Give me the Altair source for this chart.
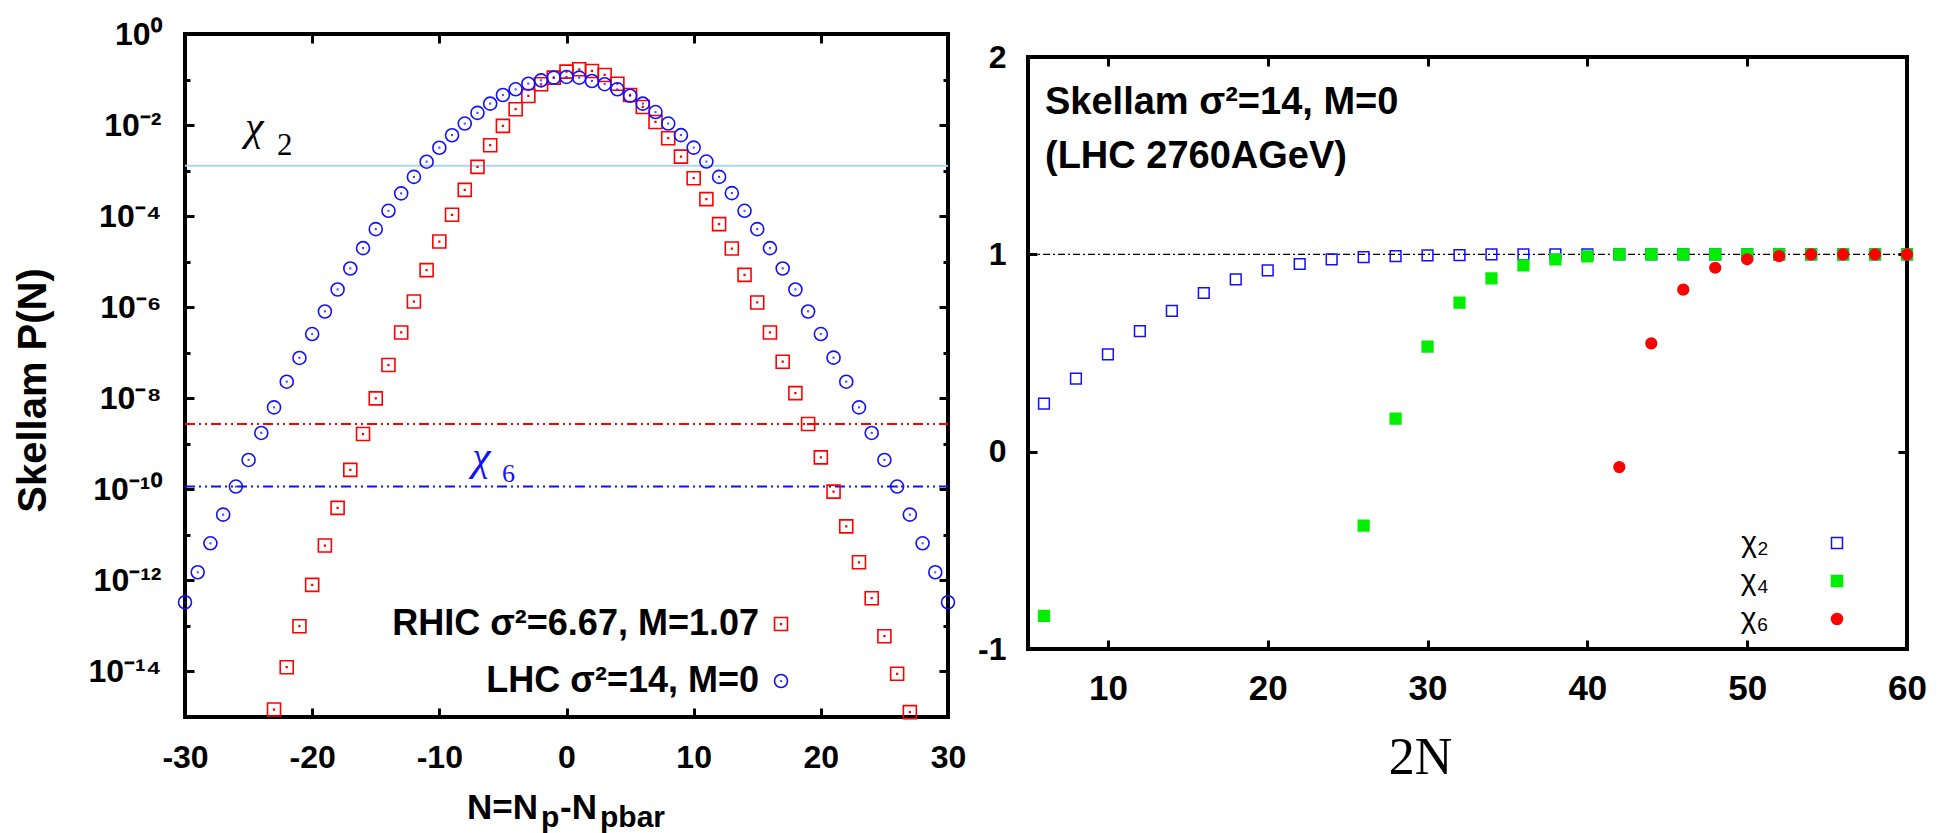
import altair as alt
import pandas as pd

SANS = "Liberation Sans"
SERIF = "Liberation Serif"

# ---------------- left panel data ----------------
rhic_label = "RHIC σ²=6.67, M=1.07"
lhc_label = "LHC σ²=14, M=0"

lhc_N = list(range(-30, 31))
lhc_P = [3.31e-13, 1.51e-12, 6.53e-12, 2.78e-11, 1.15e-10, 4.42e-10, 1.73e-9, 6.30e-9, 2.31e-8, 7.69e-8,
         2.57e-7, 8.05e-7, 2.45e-6, 7.08e-6, 1.98e-5, 5.18e-5, 1.31e-4, 3.16e-4, 7.28e-4, 1.57e-3,
         3.18e-3, 5.98e-3, 1.08e-2, 1.85e-2, 2.95e-2, 4.57e-2, 6.1e-2, 8.1e-2, 9.6e-2, 1.10e-1,
         1.14e-1,
         1.10e-1, 9.3e-2, 7.9e-2, 6.1e-2, 4.4e-2, 2.95e-2, 1.93e-2, 1.08e-2, 6.0e-3, 3.2e-3,
         1.58e-3, 7.28e-4, 3.2e-4, 1.31e-4, 5.18e-5, 1.98e-5, 7.08e-6, 2.45e-6, 8.05e-7, 2.57e-7,
         7.8e-8, 2.31e-8, 6.30e-9, 1.73e-9, 4.42e-10, 1.15e-10, 2.78e-11, 6.53e-12, 1.51e-12, 3.31e-13]

rhic_N = list(range(-23, 28))
rhic_P = [1.46e-15, 1.24e-14, 9.86e-14, 7.98e-13, 5.82e-12, 3.91e-11, 2.67e-10, 1.64e-9, 9.93e-9, 5.37e-8,
          2.79e-7, 1.33e-6, 6.53e-6, 2.77e-5, 1.07e-4, 3.77e-4, 1.21e-3, 3.61e-3, 9.58e-3, 2.23e-2,
          4.36e-2, 7.87e-2, 1.10e-1, 1.49e-1, 1.68e-1, 1.54e-1, 1.26e-1, 8.11e-2, 4.59e-2, 2.50e-2,
          1.17e-2, 5.14e-3, 2.03e-3, 6.81e-4, 2.36e-4, 6.67e-5, 1.94e-5, 5.14e-6, 1.27e-6, 2.79e-7,
          6.34e-8, 1.30e-8, 2.72e-9, 5.03e-10, 8.89e-11, 1.54e-11, 2.50e-12, 4.06e-13, 5.94e-14, 8.89e-15,
          1.28e-15]

# horizontal reference levels in the left panel
level_names = ["chi2", "chi6 RHIC", "chi6 LHC"]
level_values = [1.27e-3, 2.71e-9, 1.15e-10]

left_x_ticks = [-30, -20, -10, 0, 10, 20, 30]
left_y_major = [1, 1e-2, 1e-4, 1e-6, 1e-8, 1e-10, 1e-12, 1e-14]
left_y_minor = [1e-1, 1e-3, 1e-5, 1e-7, 1e-9, 1e-11, 1e-13]
left_y_exps = [0, -2, -4, -6, -8, -10, -12, -14]
left_y_labels = ["10⁰", "10⁻²", "10⁻⁴", "10⁻⁶", "10⁻⁸", "10⁻¹⁰", "10⁻¹²", "10⁻¹⁴"]

# ---------------- right panel data ----------------
chi_names = ["χ₂", "χ₄", "χ₆"]
chi2_x = [6, 8, 10, 12, 14, 16, 18, 20, 22, 24, 26, 28, 30, 32, 34, 36, 38, 40, 42, 44, 46, 48, 50, 52, 54, 56, 58, 60]
chi2_y = [0.243, 0.370, 0.493, 0.611, 0.714, 0.804, 0.873, 0.919, 0.951, 0.975, 0.986, 0.991, 0.995, 0.996,
          1.0, 1.0, 1.0, 1.0, 1.0, 1.0, 1.0, 1.0, 1.0, 1.0, 1.0, 1.0, 1.0, 1.0]
chi4_x = [6, 26, 28, 30, 32, 34, 36, 38, 40, 42, 44, 46, 48, 50, 52, 54, 56, 58, 60]
chi4_y = [-0.832, -0.375, 0.167, 0.532, 0.755, 0.878, 0.944, 0.975, 0.990,
          1.0, 1.0, 1.0, 1.0, 1.0, 1.0, 1.0, 1.0, 1.0, 1.0]
chi6_x = [42, 44, 46, 48, 50, 52, 54, 56, 58, 60]
chi6_y = [-0.078, 0.549, 0.821, 0.932, 0.975, 0.991, 1.0, 1.0, 1.0, 1.0]
unity_level = [1.0]

right_x_ticks = [10, 20, 30, 40, 50, 60]
right_y_ticks = [-1, 0, 1, 2]

# ---------------- styling ----------------
RED = "#ff0000"
BLUE = "#1010ff"
GREEN = "#00ee00"
SKY = "#a8d8f0"
SQ_DOT = "M-1,-1L1,-1L1,1L-1,1Z M-0.05,-0.05L0.05,-0.05L0.05,0.05L-0.05,0.05Z"
CIRC_DOT = ("M1,0A1,1,0,1,1,-1,0A1,1,0,1,1,1,0Z "
            "M0.05,0A0.05,0.05,0,1,1,-0.05,0A0.05,0.05,0,1,1,0.05,0Z")

MAJ = 9
MINR = 5
NBSP = "\u00a0"
ZWSP = "\u200b"  # keeps the trailing no-break spaces from being trimmed
minus_expr = "datum.value < 0 ? '-' + abs(datum.value) : '' + datum.value"
log_expr = " : ".join(
    f"round(log(datum.value)/LN10) == {e} ? '{lab}'" for e, lab in zip(left_y_exps, left_y_labels)
) + " : ''"


def tick_axis(orient, values, size, **kw):
    base = dict(orient=orient, values=values, domain=False, grid=False, ticks=True,
                tickSize=size, tickWidth=3, tickColor="black", offset=-size,
                labels=False, title=None)
    base.update(kw)
    return alt.Axis(**base)


def label_kw(size, pad, expr):
    return dict(labels=True, labelFont=SANS, labelFontSize=size, labelFontWeight="bold",
                labelColor="black", labelPadding=pad, labelOverlap=False, labelFlush=False,
                labelExpr=expr)


def make_txt(xs, ys, x0, y0):
    """Text anchored at the panel's top-left corner (x0, y0), shifted by pixel offsets."""
    def txt(text, px, py, size, color="black", font=SANS, weight="bold", style="normal"):
        return alt.Chart(pd.DataFrame({"t": [text]})).mark_text(
            align="left", baseline="alphabetic", fontSize=size, font=font,
            fontWeight=weight, fontStyle=style, color=color, dx=px, dy=py
        ).encode(
            x=alt.XDatum(x0, type="quantitative", scale=xs, axis=None),
            y=alt.YDatum(y0, type="quantitative", scale=ys, axis=None),
            text="t:N",
        )
    return txt


# ================= LEFT PANEL =================
LW, LH = 763, 683
xs_l = alt.Scale(domain=[-30, 30], nice=False, zero=False)
ys_l = alt.Scale(type="log", domain=[1e-15, 1], nice=False)

df_left = pd.DataFrame({
    "N": rhic_N + lhc_N,
    "P": rhic_P + lhc_P,
    "series": [rhic_label] * len(rhic_N) + [lhc_label] * len(lhc_N),
})

# gnuplot-style key: text right-aligned, then the symbol to its right
leg_l = alt.Legend(title=None, orient="none", legendX=532, legendY=572, padding=0,
                   labelAlign="right", labelOffset=0, symbolOffset=46, labelFont=SANS, labelFontSize=36,
                   labelFontWeight="bold", labelColor="black", labelLimit=900,
                   labelExpr=f"datum.label + '{NBSP * 4}{ZWSP}'",
                   symbolSize=169, symbolStrokeWidth=1.6, rowPadding=21)

ax_bottom_l = tick_axis("bottom", left_x_ticks, MAJ, **label_kw(32, 25, minus_expr))
ax_left_l = tick_axis("left", left_y_major, MAJ, **label_kw(32, 24, log_expr),
                      title="Skellam P(N)", titleFont=SANS, titleFontSize=40,
                      titleFontWeight="bold", titleColor="black", titleAngle=270,
                      titleX=-161, titleY=356, titleAlign="center", titleBaseline="middle")

pts_l = alt.Chart(df_left).mark_point(filled=False, opacity=1, size=169, strokeWidth=1.6).encode(
    x=alt.X("N:Q", scale=xs_l, axis=ax_bottom_l),
    y=alt.Y("P:Q", scale=ys_l, axis=ax_left_l),
    color=alt.Color("series:N", scale=alt.Scale(domain=[rhic_label, lhc_label], range=[RED, BLUE]),
                    legend=leg_l),
    shape=alt.Shape("series:N", scale=alt.Scale(domain=[rhic_label, lhc_label], range=[SQ_DOT, CIRC_DOT]),
                    legend=leg_l),
)

df_levels = pd.DataFrame({"name": level_names, "P": level_values})


def level_rule(name, color, axis, dash=None):
    kw = dict(color=color, strokeWidth=2)
    if dash:
        kw["strokeDash"] = dash
    return alt.Chart(df_levels[df_levels["name"] == name]).mark_rule(**kw).encode(
        x=alt.XDatum(-30, type="quantitative", scale=xs_l, axis=None),
        x2=alt.X2Datum(30),
        y=alt.Y("P:Q", scale=ys_l, axis=axis),
    )


rule_sky = alt.Chart(df_levels[df_levels["name"] == "chi2"]).mark_rule(color=SKY, strokeWidth=2).encode(
    x=alt.XDatum(-30, type="quantitative", scale=xs_l, axis=tick_axis("top", left_x_ticks, MAJ)),
    x2=alt.X2Datum(30),
    y=alt.Y("P:Q", scale=ys_l, axis=tick_axis("right", left_y_major, MAJ)),
)
rule_red = level_rule("chi6 RHIC", RED, tick_axis("left", left_y_minor, MINR), [10, 4, 2, 4, 2, 4])
rule_blue = level_rule("chi6 LHC", BLUE, tick_axis("right", left_y_minor, MINR), [10, 4, 2, 4, 2, 4])

txt_l = make_txt(xs_l, ys_l, -30, 1)
left_texts = [
    txt_l("N=N", 282, 785, 35),
    txt_l("p", 356, 793, 30),
    txt_l("-N", 375, 785, 35),
    txt_l("pbar", 415, 793, 30),
    txt_l("χ", 60, 106, 42, font=SERIF, weight="normal", style="italic"),
    txt_l("2", 92, 121, 31, font=SERIF, weight="normal"),
    txt_l("χ", 287, 436, 42, color=BLUE, font=SERIF, weight="normal", style="italic"),
    txt_l("6", 317, 448, 26, color=BLUE, font=SERIF, weight="normal"),
]

left = alt.layer(rule_sky, rule_red, rule_blue, pts_l, *left_texts).resolve_axis(
    x="independent", y="independent").properties(width=LW, height=LH)

# ================= RIGHT PANEL =================
RW, RH = 879, 592
xs_r = alt.Scale(domain=[5, 60], nice=False, zero=False)
ys_r = alt.Scale(domain=[-1, 2], nice=False, zero=False)

df_right = pd.DataFrame({
    "x": chi2_x + chi4_x + chi6_x,
    "y": chi2_y + chi4_y + chi6_y,
    "chi": [chi_names[0]] * len(chi2_x) + [chi_names[1]] * len(chi4_x) + [chi_names[2]] * len(chi6_x),
})

leg_r = alt.Legend(title=None, orient="none", legendX=740, legendY=471, padding=0,
                   labelAlign="right", labelOffset=0, symbolOffset=54, labelFont=SANS, labelFontSize=30,
                   labelFontWeight="normal", labelColor="black", labelLimit=300,
                   labelExpr=f"datum.label + '{NBSP * 10}{ZWSP}'",
                   symbolSize=121, symbolStrokeWidth=1.5, rowPadding=8)

ax_bottom_r = tick_axis("bottom", right_x_ticks, MAJ, **label_kw(35, 22, minus_expr),
                        title="2N", titleFont=SERIF, titleFontSize=52, titleFontWeight="normal",
                        titleColor="black", titleX=392, titleY=133, titleAlign="center",
                        titleBaseline="alphabetic")
ax_left_r = tick_axis("left", right_y_ticks, MAJ, **label_kw(32, 22, minus_expr))

pts_r = alt.Chart(df_right).mark_point(filled=True, opacity=1, size=115, strokeWidth=1.5).encode(
    x=alt.X("x:Q", scale=xs_r, axis=ax_bottom_r),
    y=alt.Y("y:Q", scale=ys_r, axis=ax_left_r),
    fill=alt.Fill("chi:N", scale=alt.Scale(domain=chi_names, range=["transparent", GREEN, RED]), legend=leg_r),
    stroke=alt.Stroke("chi:N", scale=alt.Scale(domain=chi_names, range=[BLUE, GREEN, RED]), legend=leg_r),
    shape=alt.Shape("chi:N", scale=alt.Scale(domain=chi_names, range=["square", "square", "circle"]), legend=leg_r),
)

rule_one = alt.Chart(pd.DataFrame({"y": unity_level})).mark_rule(
    color="black", strokeWidth=1.3, strokeDash=[7, 3, 2, 3]).encode(
    x=alt.XDatum(5, type="quantitative", scale=xs_r, axis=tick_axis("top", right_x_ticks, MAJ)),
    x2=alt.X2Datum(60),
    y=alt.Y("y:Q", scale=ys_r, axis=tick_axis("right", right_y_ticks, MAJ)),
)

txt_r = make_txt(xs_r, ys_r, 5, 2)
right_texts = [
    txt_r("Skellam σ²=14, M=0", 17, 57, 38),
    txt_r("(LHC 2760AGeV)", 17, 111, 38),
]

right = alt.layer(rule_one, pts_r, *right_texts).resolve_axis(
    x="independent", y="independent").properties(width=RW, height=RH)

spacer = alt.Chart(pd.DataFrame({"v": [0]})).mark_point(opacity=0).encode(
    x=alt.X("v:Q", axis=None), y=alt.Y("v:Q", axis=None)
).properties(width=10, height=4, view=alt.ViewConfig(strokeWidth=0))

right_col = alt.vconcat(spacer, right, spacing=0).resolve_legend(
    fill="independent", stroke="independent", shape="independent")

chart = alt.hconcat(left, right_col, spacing=7).resolve_scale(
    color="independent", shape="independent", fill="independent", stroke="independent"
).resolve_legend(
    color="independent", shape="independent", fill="independent", stroke="independent"
).properties(
    padding={"left": 11, "top": 16, "right": 0, "bottom": 0},
    background="white",
).configure(font=SANS).configure_view(stroke="black", strokeWidth=4)

chart.save("out.html", embed_options={"renderer": "svg", "actions": False})
